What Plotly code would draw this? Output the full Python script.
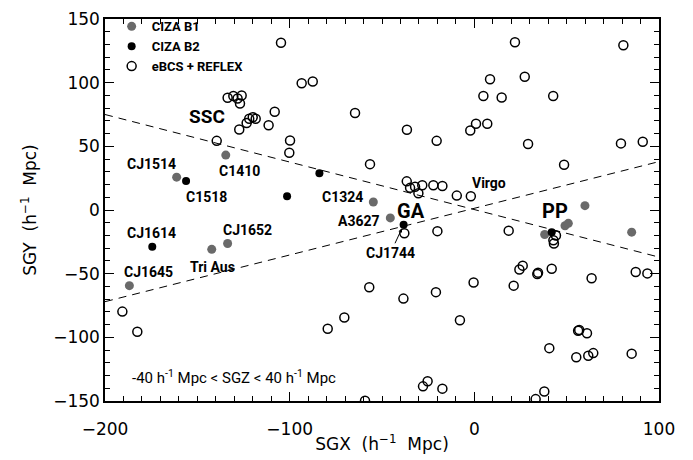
import plotly.graph_objects as go

# ---- data ----
b1_x = [-161.2, -134.6, -133.6, -142.2, -186.8, -54.7, -45.5, 59.9, 38.1, 49.1, 50.9, 85.2]
b1_y = [25.8, 43.1, -26.3, -30.9, -59.4, 6.3, -6.2, 3.4, -19.2, -12.4, -10.5, -17.4]

b2_x = [-156.1, -83.9, -101.4, -174.4, -38.3, 41.9]
b2_y = [22.7, 28.9, 10.8, -28.9, -11.6, -17.4]

eb_x = [-104.7, -93.5, -87.5, -64.6, -108.1, -111.4, -99.8, -100.2, -36.5, -20.4,
        -2.2, 0.9, 7.0, 4.9, 8.5, 14.8, 22.0, 27.3, 42.7, 29.1,
        80.7, 79.4, 91.2,
        -133.6, -130.5, -128.2, -126.0, -126.9, -121.9, -120.0, -118.4, -123.3, -127.3, -139.5,
        -56.5, -36.6, -34.8, -32.1, -30.3, -28.2, -22.2, -17.3, -9.5, -1.9,
        -37.9, -20.0, 18.6, 48.6,
        44.2, 42.8, 43.1,
        26.2, 24.4, 34.5, 34.1, 41.9, 63.5, 21.3, 87.4, 93.7,
        -56.9, -38.4, -20.8, -0.4, -7.8, 56.8, 56.2, 61.0, 40.6, 55.2,
        61.7, 64.4, 85.2, -25.3, -27.8, -17.3, 37.9, 33.2, -59.2,
        -190.6, -182.5, -79.4, -70.4]
eb_y = [131.4, 99.6, 100.9, 76.2, 77.2, 66.6, 54.6, 44.9, 63.0, 54.3,
        62.4, 67.8, 67.8, 89.5, 102.7, 88.4, 131.7, 104.7, 89.5, 51.8,
        129.4, 52.3, 53.6,
        88.2, 89.5, 87.6, 89.9, 83.6, 71.6, 72.9, 71.6, 68.3, 63.2, 54.3,
        36.0, 22.5, 17.4, 18.2, 13.1, 19.5, 19.5, 18.9, 11.3, 10.8,
        -18.2, -16.6, -16.2, 35.5,
        -20.0, -23.8, -26.3,
        -43.7, -46.7, -49.2, -50.2, -46.2, -53.6, -59.4, -48.7, -49.8,
        -60.7, -69.6, -64.5, -56.9, -86.6, -94.3, -94.8, -96.8, -108.5, -115.6,
        -114.4, -112.4, -112.8, -134.5, -138.5, -140.3, -142.6, -148.5, -149.8,
        -79.8, -95.6, -93.3, -84.4]

# dashed lines (zone boundaries)
line_x = [-200, 100]
line1_y = [75, -37]
line2_y = [-72, 38]

series_names = ["CIZA B1", "CIZA B2", "eBCS + REFLEX"]

x_ticks = [-200, -100, 0, 100]
y_ticks = [-150, -100, -50, 0, 50, 100, 150]

# labels: (text, x, y, size)
labels = [
    ("SSC", -144.9, 73.8, 19),
    ("CJ1514", -174.7, 36.2, 14),
    ("C1410", -127.3, 30.3, 14),
    ("C1518", -144.9, 10.4, 14),
    ("CJ1614", -174.7, -18.3, 14),
    ("CJ1652", -122.7, -15.7, 14),
    ("Tri Aus", -141.7, -44.7, 14),
    ("CJ1645", -176.5, -48.5, 14),
    ("C1324", -71.3, 10.4, 14),
    ("A3627", -62.3, -8.8, 14),
    ("GA", -34.3, -0.4, 20),
    ("Virgo", 7.9, 20.9, 14),
    ("PP", 43.5, -0.4, 20),
]

GRAY = "#6a6a6a"
LBL_FONT = "Roboto"
AX_FONT = "DejaVu Sans"

fig = go.Figure()

fig.add_trace(go.Scatter(x=line_x, y=line1_y, mode="lines", showlegend=False,
                         line=dict(color="black", width=1, dash="8px,6px"), hoverinfo="skip"))
fig.add_trace(go.Scatter(x=line_x, y=line2_y, mode="lines", showlegend=False,
                         line=dict(color="black", width=1, dash="8px,6px"), hoverinfo="skip"))

fig.add_trace(go.Scatter(x=eb_x, y=eb_y, mode="markers", name=series_names[2],
                         marker=dict(symbol="circle-open", size=9, color="black",
                                     line=dict(width=1.5, color="black"))))
fig.add_trace(go.Scatter(x=b1_x, y=b1_y, mode="markers", name=series_names[0],
                         marker=dict(symbol="circle", size=9, color=GRAY, line=dict(width=0))))
fig.add_trace(go.Scatter(x=b2_x, y=b2_y, mode="markers", name=series_names[1],
                         marker=dict(symbol="circle", size=8, color="black", line=dict(width=0))))

annotations = []
for txt, lx, ly, sz in labels:
    annotations.append(dict(x=lx, y=ly, xref="x", yref="y", text=txt, showarrow=False,
                            font=dict(family=LBL_FONT, size=sz, color="black", weight="bold"),
                            xanchor="center", yanchor="middle"))
# CJ1744 with arrow
annotations.append(dict(x=b2_x[4], y=b2_y[4], xref="x", yref="y", text="CJ1744",
                        showarrow=True, arrowhead=2, arrowsize=0.8, arrowwidth=1,
                        arrowcolor="black", standoff=4, ax=-13, ay=28,
                        font=dict(family=LBL_FONT, size=14, color="black", weight="bold")))
annotations.append(dict(x=-186.5, y=-130.9, xref="x", yref="y",
                        text="-40 h<sup>-1</sup> Mpc < SGZ < 40 h<sup>-1</sup> Mpc",
                        showarrow=False, xanchor="left", yanchor="middle",
                        font=dict(family=LBL_FONT, size=15, color="black")))

axis_common = dict(showline=True, linecolor="black", linewidth=1.5, mirror="allticks",
                   ticks="inside", ticklen=9, tickwidth=1.2, tickcolor="black",
                   showgrid=False, zeroline=False,
                   tickfont=dict(family=AX_FONT, size=17, color="black"),
                   minor=dict(ticks="inside", ticklen=5, tickwidth=1, tickcolor="black",
                              dtick=10, showgrid=False))

fig.update_layout(
    width=693, height=460,
    margin=dict(l=105, r=34, t=9, b=59),
    paper_bgcolor="white", plot_bgcolor="white",
    xaxis=dict(range=[-200, 100], tickvals=x_ticks, ticklabelstandoff=12, **axis_common,
               title=dict(text="SGX  (h<sup>−1</sup>  Mpc)", standoff=0,
                          font=dict(family=AX_FONT, size=17, color="black"))),
    yaxis=dict(range=[-150, 150], tickvals=y_ticks, **axis_common,
               title=dict(text="SGY  (h<sup>−1</sup>  Mpc)", standoff=12,
                          font=dict(family=AX_FONT, size=17, color="black"))),
    legend=dict(x=0.012, y=1.02, xanchor="left", yanchor="top", bgcolor="rgba(0,0,0,0)",
                traceorder="normal",
                font=dict(family=LBL_FONT, size=13, color="black", weight="bold"),
                itemwidth=30, tracegroupgap=0),
    annotations=annotations,
    showlegend=True,
)

# legend order: CIZA B1, CIZA B2, eBCS + REFLEX
fig.data[2].legendrank = 3
fig.data[3].legendrank = 1
fig.data[4].legendrank = 2

fig.write_html("out.html")
